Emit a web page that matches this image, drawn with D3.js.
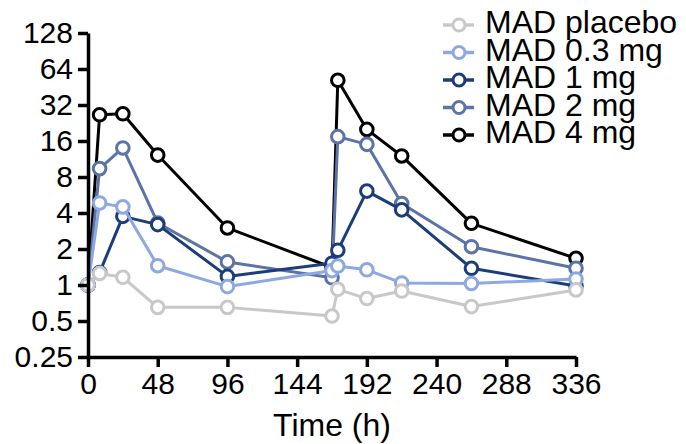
<!DOCTYPE html>
<html>
<head>
<meta charset="utf-8">
<script src="https://cdn.jsdelivr.net/npm/d3@7"></script>
<style>
  body { margin: 0; background: #fff; }
  svg { display: block; font-family: "Liberation Sans", Arial, sans-serif; }
</style>
</head>
<body>
<div id="chart"></div>
<script>
// Fold change over time, one row per dose group
const times = [0, 8, 24, 48, 96, 168, 172, 192, 216, 264, 336];
const placebo = [1.0, 1.25, 1.16, 0.65, 0.65, 0.55, 0.92, 0.77, 0.89, 0.66, 0.91];
const mg03 = [1.0, 4.85, 4.5, 1.45, 0.97, 1.32, 1.44, 1.34, 1.04, 1.03, 1.12];
const mg1 = [1.0, 1.27, 3.75, 3.2, 1.18, 1.52, 1.95, 6.1, 4.25, 1.38, 0.98];
const mg2 = [1.0, 9.4, 14.0, 3.3, 1.56, 1.15, 17.4, 15.0, 4.8, 2.09, 1.38];
const mg4 = [1.0, 26.5, 27.0, 12.2, 3.0, 1.4, 51.5, 20.0, 12.0, 3.28, 1.67];

const seriesNames = ["MAD placebo", "MAD 0.3 mg", "MAD 1 mg", "MAD 2 mg", "MAD 4 mg"];
const seriesColors = ["#c8c8c8", "#8ea8e0", "#1b3d78", "#5b73a6", "#000000"];
const seriesValues = [placebo, mg03, mg1, mg2, mg4];

const xTicks = [0, 48, 96, 144, 192, 240, 288, 336];
const yTicks = [0.25, 0.5, 1, 2, 4, 8, 16, 32, 64, 128];

const width = 686, height = 444;

const svg = d3.select("#chart").append("svg")
  .attr("width", width)
  .attr("height", height);

const x = d3.scaleLinear().domain([0, 336]).range([88, 576]);
const y = d3.scaleLog().base(2).domain([0.25, 128]).range([357, 33]);

// series, drawn back to front so placebo sits on top
const series = seriesNames.map((name, i) => ({
  name,
  color: seriesColors[i],
  points: times.map((t, j) => ({ t, v: seriesValues[i][j] }))
}));

const line = d3.line().x(d => x(d.t)).y(d => y(d.v));

const groups = svg.append("g")
  .selectAll("g")
  .data(series.slice().reverse())
  .join("g");

groups.append("path")
  .attr("d", d => line(d.points))
  .attr("fill", "none")
  .attr("stroke", d => d.color)
  .attr("stroke-width", 3)
  .attr("stroke-linejoin", "round");

groups.each(function (s) {
  d3.select(this).selectAll("circle")
    .data(s.points)
    .join("circle")
    .attr("cx", d => x(d.t))
    .attr("cy", d => y(d.v))
    .attr("r", 6.3)
    .attr("fill", "#fff")
    .attr("stroke", s.color)
    .attr("stroke-width", 3);
});

// axes
const yAxis = svg.append("g")
  .attr("transform", `translate(${x(0)},0)`)
  .call(d3.axisLeft(y)
    .tickValues(yTicks)
    .tickFormat(d => String(d))
    .tickSize(10)
    .tickSizeOuter(0)
    .tickPadding(5));

const xAxis = svg.append("g")
  .attr("transform", `translate(0,${y(0.25)})`)
  .call(d3.axisBottom(x)
    .tickValues(xTicks)
    .tickFormat(d => String(d))
    .tickSize(10)
    .tickSizeOuter(0)
    .tickPadding(6));

[yAxis, xAxis].forEach(ax => {
  ax.select(".domain").attr("stroke", "#000").attr("stroke-width", 3.5);
  ax.selectAll(".tick line").attr("stroke", "#000").attr("stroke-width", 3.5);
  ax.selectAll(".tick text")
    .attr("fill", "#000")
    .style("font-size", "30px")
    .style("font-family", "'Liberation Sans', Arial, sans-serif");
});

svg.append("text")
  .attr("x", 332)
  .attr("y", 436)
  .attr("text-anchor", "middle")
  .style("font-size", "32px")
  .text("Time (h)");

// legend
const legend = svg.append("g")
  .selectAll("g")
  .data(series)
  .join("g")
  .attr("transform", (d, i) => `translate(0,${25 + i * 27.5})`);

legend.append("line")
  .attr("x1", 443).attr("x2", 474)
  .attr("stroke", d => d.color)
  .attr("stroke-width", 3.5);

legend.append("circle")
  .attr("cx", 459)
  .attr("r", 6)
  .attr("fill", "#fff")
  .attr("stroke", d => d.color)
  .attr("stroke-width", 3);

legend.append("text")
  .attr("x", 485)
  .attr("y", 8)
  .style("font-size", "32px")
  .text(d => d.name);
</script>
</body>
</html>
